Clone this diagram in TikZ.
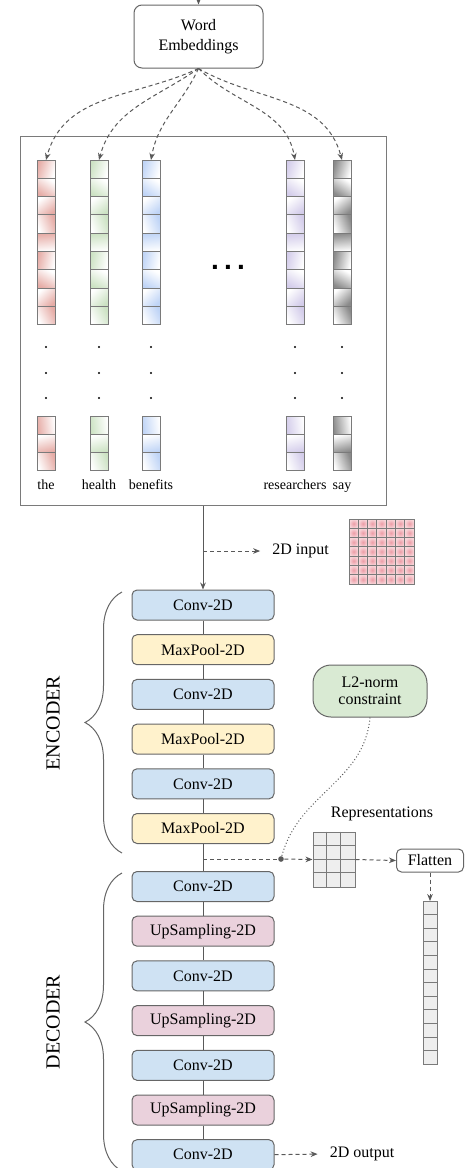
\documentclass[tikz,border=0pt]{standalone}
\usepackage{fontspec}
\setmainfont{Liberation Serif}
\newfontfamily\dotfont{Liberation Sans}
\usetikzlibrary{arrows.meta,decorations.pathreplacing}

\definecolor{linegray}{HTML}{595959}
\definecolor{boxgray}{HTML}{666666}
\definecolor{cellgray}{HTML}{7A7A7A}
\definecolor{convblue}{HTML}{CFE2F3}
\definecolor{poolyellow}{HTML}{FFF2CC}
\definecolor{uppink}{HTML}{EAD1DC}
\definecolor{normgreen}{HTML}{D9EAD3}
\definecolor{repgray}{HTML}{EEEEEE}
\definecolor{vred}{HTML}{E6ACA6}
\definecolor{vgreen}{HTML}{CCE2C3}
\definecolor{vblue}{HTML}{BFD4F6}
\definecolor{vpurple}{HTML}{D3CCEA}
\definecolor{vgray}{HTML}{8A8A8A}
\definecolor{gridin}{HTML}{EC9CA6}
\definecolor{gridout}{HTML}{F8D6DA}

\begin{document}
\begin{tikzpicture}[x=0.5pt, y=0.5pt, line width=0.5pt,
    font=\fontsize{8}{10}\selectfont,
    layer/.style={draw=boxgray, rounded corners=2.5pt, minimum width=71pt, minimum height=15pt, inner sep=0pt},
    conv/.style={layer, fill=convblue},
    pool/.style={layer, fill=poolyellow},
    upsamp/.style={layer, fill=uppink},
    vcell/.style={draw=cellgray, minimum width=9pt, minimum height=9.15pt, inner sep=0pt, outer sep=0pt},
    fcell/.style={draw=cellgray, fill=repgray, minimum width=7pt, minimum height=6.8pt, inner sep=0pt, outer sep=0pt},
    headarrow/.style={-{Stealth[length=3.5pt, width=2.8pt]}},
    dashline/.style={draw=linegray, dash pattern=on 2pt off 1.5pt},
    dotline/.style={draw=linegray, dash pattern=on 0.5pt off 1.1pt},
    curly/.style={draw=boxgray, decorate, decoration={brace, amplitude=18.5pt}},
  ]

  \useasboundingbox (0,0) rectangle (467,-1168);

  % embeddings
  \coordinate (feed) at (198.5,20);
  \node[draw=boxgray, rounded corners=4pt, minimum width=64.5pt, minimum height=31.5pt, align=center] (we) at (198.5,-36.5) {Word\\Embeddings};
  \draw[linegray, headarrow] (feed) -- (we.north);

  \node[draw=cellgray, minimum width=183pt, minimum height=184.5pt, inner sep=0pt] (panel) at (203,-320.5) {};

  \foreach \name/\x/\col/\ang/\inang in {the/46/vred/205/75, health/99/vgreen/215/75, benefits/151/vblue/245/80, researchers/295/vpurple/315/100, say/342/vgray/330/105} {
    \foreach \i [evaluate=\i as \sa using {mod(\i*73,360)}] in {1,...,9}
      \node[vcell, top color=\col, bottom color=white, shading angle=\sa] (\name-\i) at (\x, {-160-18.3*(\i-0.5)}) {};
    \foreach \i [evaluate=\i as \sa using {mod(\i*97,360)}] in {1,2,3}
      \node[vcell, top color=\col, bottom color=white, shading angle=\sa] (\name-b\i) at (\x, {-416-18.3*(\i-0.5)}) {};
    \foreach \dy in {347,373,398}
      \fill (\x,-\dy) circle (0.55pt);
    \node[font=\fontsize{7}{8}\selectfont, anchor=base] (\name-lab) at (\x,-489) {\name};
    \path (we.south) edge[dashline, headarrow, out=\ang, in=\inang] (\name-1.north);
  }
  \node[font=\dotfont\fontsize{14}{14}\bfseries, anchor=base] (more) at (228,-269.5) {.\hspace{2.6pt}.\hspace{2.6pt}.};

  % 2D input
  \coordinate (inbranch) at (203,-551);
  \node (input) at (300.5,-551) {2D input};
  \foreach \r in {0,...,6}
    \foreach \c in {0,...,6}
      \shadedraw[inner color=gridin, outer color=gridout, draw=cellgray] (349+\c*9.3, -519-\r*9.3) rectangle ++(9.3,-9.3);

  % encoder
  \node[conv] (conv1) at (203,-605) {Conv-2D};
  \node[pool] (pool1) at (203,-649.7) {MaxPool-2D};
  \node[conv] (conv2) at (203,-694.4) {Conv-2D};
  \node[pool] (pool2) at (203,-739.1) {MaxPool-2D};
  \node[conv] (conv3) at (203,-783.8) {Conv-2D};
  \node[pool] (pool3) at (203,-828.5) {MaxPool-2D};

  % decoder
  \node[conv] (dconv1) at (203,-886.5) {Conv-2D};
  \node[upsamp] (up1) at (203,-931.2) {UpSampling-2D};
  \node[conv] (dconv2) at (203,-975.9) {Conv-2D};
  \node[upsamp] (up2) at (203,-1020.6) {UpSampling-2D};
  \node[conv] (dconv3) at (203,-1065.3) {Conv-2D};
  \node[upsamp] (up3) at (203,-1110) {UpSampling-2D};
  \node[conv] (dconv4) at (203,-1154.7) {Conv-2D};

  \draw[linegray, headarrow] (panel.south) -- (conv1.north);
  \draw[dashline, headarrow, shorten >=2.5pt] (inbranch) -- (input.west);
  \foreach \a/\b in {conv1/pool1, pool1/conv2, conv2/pool2, pool2/conv3, conv3/pool3, pool3/dconv1, dconv1/up1, up1/dconv2, dconv2/up2, up2/dconv3, dconv3/up3, up3/dconv4}
    \draw[linegray] (\a) -- (\b);

  \draw[curly] (122,-853) -- (122,-592);
  \node[rotate=90, font=\fontsize{10}{12}\selectfont] (enc) at (53,-723) {ENCODER};
  \draw[curly] (122,-1171) -- (122,-873);
  \node[rotate=90, font=\fontsize{10}{12}\selectfont] (dec) at (53,-1022) {DECODER};

  % representations
  \node[draw=boxgray, fill=normgreen, rounded corners=9pt, minimum width=57pt, minimum height=26pt, align=center, font=\fontsize{8}{8.5}\selectfont] (l2) at (370,-691) {L2-norm\\constraint};
  \coordinate (repbranch) at (203,-859);
  \node[circle, fill=linegray, inner sep=0pt, minimum size=2.8pt] (l2dot) at (281,-859) {};
  \node[draw=cellgray, fill=repgray, minimum width=21pt, minimum height=27.5pt, inner sep=0pt] (rep) at (334,-859.5) {};
  \foreach \i in {1,2}
    \draw[cellgray] ([xshift=\i*7pt]rep.north west) -- ([xshift=\i*7pt]rep.south west);
  \foreach \j in {1,2,3}
    \draw[cellgray] ([yshift=-\j*6.875pt]rep.north west) -- ([yshift=-\j*6.875pt]rep.north east);
  \node (replab) at (382,-814) {Representations};
  \node[draw=boxgray, rounded corners=2.5pt, fill=white, minimum width=33.5pt, minimum height=11.5pt, inner sep=0pt] (flat) at (430,-860.5) {Flatten};
  \foreach \i in {1,...,12}
    \node[fcell] (fv-\i) at (430, {-901-13.6*(\i-0.5)}) {};

  \draw[dashline] (repbranch) -- (l2dot);
  \draw[dashline, headarrow] (l2dot) -- (rep.west);
  \draw[dotline] (l2.south) to[out=-95, in=75] (l2dot);
  \draw[dashline, headarrow] (rep.east) -- (flat.west);
  \draw[dashline, headarrow] (flat.south) -- (fv-1.north);

  % output
  \node (output) at (362,-1154) {2D output};
  \draw[dashline, headarrow, shorten >=2.5pt] (dconv4.east) -- (output.west);

\end{tikzpicture}
\end{document}
